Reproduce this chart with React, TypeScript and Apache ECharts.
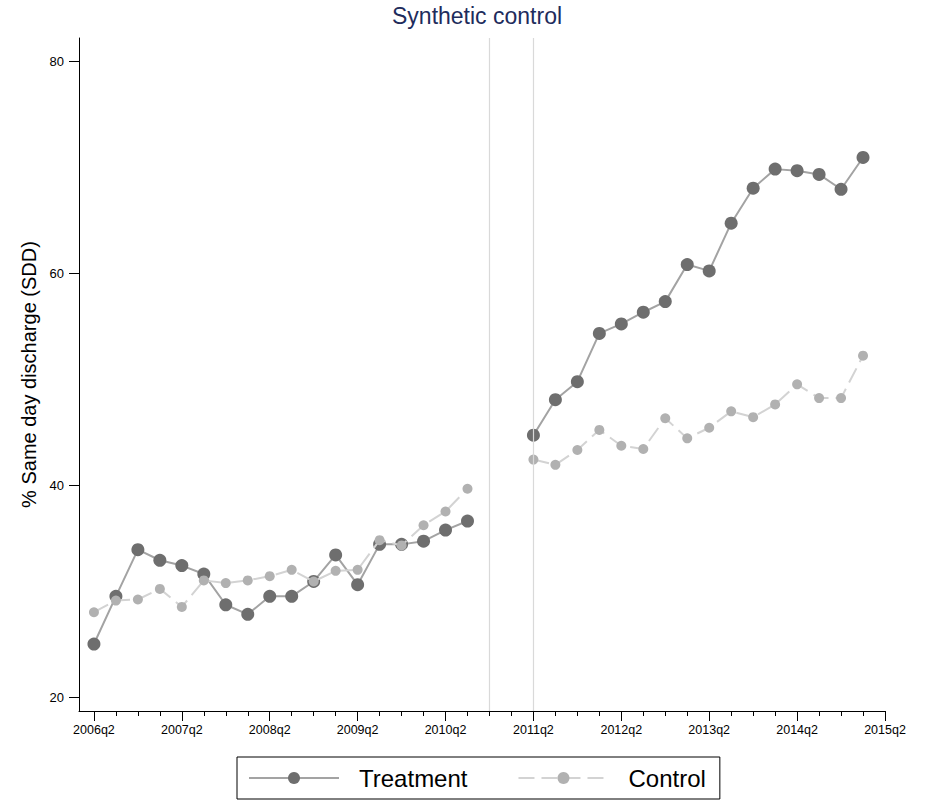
import React, { useEffect, useRef } from "react";
import * as echarts from "echarts";

// Quarter categories (index 0 = 2006q2)
const quarters = [
  "2006q2", "2006q3", "2006q4", "2007q1", "2007q2", "2007q3", "2007q4", "2008q1",
  "2008q2", "2008q3", "2008q4", "2009q1", "2009q2", "2009q3", "2009q4", "2010q1",
  "2010q2", "2010q3", "2010q4", "2011q1", "2011q2", "2011q3", "2011q4", "2012q1",
  "2012q2", "2012q3", "2012q4", "2013q1", "2013q2", "2013q3", "2013q4", "2014q1",
  "2014q2", "2014q3", "2014q4", "2015q1", "2015q2",
];

// % Same day discharge, 2006q2 .. 2015q1 (null = not observed)
const treatment = [
  25.0, 29.5, 33.9, 32.9, 32.4, 31.6, 28.7, 27.8, 29.5, 29.5, 30.9, 33.4, 30.6, 34.4,
  34.4, 34.7, 35.75, 36.6, null, null, 44.7, 48.05, 49.75, 54.3, 55.2, 56.3, 57.3,
  60.8, 60.2, 64.7, 68.0, 69.8, 69.65, 69.3, 67.9, 70.9,
];
const control = [
  28.0, 29.1, 29.2, 30.2, 28.5, 31.0, 30.75, 31.0, 31.4, 32.0, 30.9, 31.9, 32.0, 34.8,
  34.3, 36.2, 37.5, 39.65, null, null, 42.4, 41.9, 43.3, 45.2, 43.7, 43.4, 46.3, 44.4,
  45.4, 46.95, 46.4, 47.6, 49.5, 48.2, 48.2, 52.2,
];

const xTickLabels = [
  "2006q2", "2007q2", "2008q2", "2009q2", "2010q2", "2011q2", "2012q2", "2013q2",
  "2014q2", "2015q2",
];
const yTickValues = [20, 40, 60, 80];
const referenceQuarters = ["2010q4", "2011q2"];

const FONT = "Liberation Sans, Arial, Helvetica, sans-serif";

export default function App() {
  const ref = useRef<HTMLDivElement>(null);

  useEffect(() => {
    if (!ref.current) return;
    const chart = echarts.init(ref.current, undefined, { renderer: "svg" });

    const majorIdx = xTickLabels.map((l) => quarters.indexOf(l));
    const minorIdx = quarters.map((_, i) => i).filter((i) => majorIdx.indexOf(i) < 0);
    const toPairs = (arr: (number | null)[]) =>
      arr.map((v, i) => [i, v === null ? null : v]);

    const xMin = -0.68;
    const xMax = 36;

    const option: any = {
      animation: false,
      backgroundColor: "#ffffff",
      title: {
        text: "Synthetic control",
        left: 392,
        top: 4,
        padding: 0,
        textStyle: {
          fontFamily: FONT,
          fontSize: 23,
          fontWeight: "normal",
          color: "#1e2c5c",
        },
      },
      legend: {
        left: 237,
        top: 757,
        padding: [9, 14, 9, 11],
        borderColor: "#000",
        borderWidth: 1,
        itemGap: 50,
        itemWidth: 90,
        itemHeight: 15,
        textStyle: {
          fontFamily: FONT,
          fontSize: 24,
          color: "#000",
          padding: [0, 0, 0, 15],
        },
        data: ["Treatment", "Control"],
      },
      grid: { left: 79, right: 44, top: 38, bottom: 90 },
      xAxis: [
        {
          type: "value",
          min: xMin,
          max: xMax,
          position: "bottom",
          axisLine: { show: true, onZero: false, lineStyle: { color: "#000", width: 1 } },
          axisTick: {
            show: true,
            length: 10,
            customValues: majorIdx,
            lineStyle: { color: "#000", width: 1 },
          },
          axisLabel: {
            show: true,
            customValues: majorIdx,
            margin: 12,
            fontFamily: FONT,
            fontSize: 12.5,
            color: "#000",
            formatter: (v: number) => quarters[Math.round(v)] ?? "",
          },
          splitLine: { show: false },
        },
        {
          type: "value",
          min: xMin,
          max: xMax,
          position: "bottom",
          axisLine: { show: false, onZero: false },
          axisTick: {
            show: true,
            length: 5,
            customValues: minorIdx,
            lineStyle: { color: "#000", width: 1 },
          },
          axisLabel: { show: false },
          splitLine: { show: false },
        },
      ],
      yAxis: {
        type: "value",
        min: 18.68,
        max: 82.17,
        name: "% Same day discharge (SDD)",
        nameLocation: "middle",
        nameGap: 40,
        nameTextStyle: { fontFamily: FONT, fontSize: 20, color: "#000" },
        axisLine: { show: true, onZero: false, lineStyle: { color: "#000", width: 1 } },
        axisTick: {
          show: true,
          length: 10,
          customValues: yTickValues,
          lineStyle: { color: "#000", width: 1 },
        },
        axisLabel: {
          show: true,
          customValues: yTickValues,
          margin: 15,
          fontFamily: FONT,
          fontSize: 13,
          color: "#000",
        },
        splitLine: { show: false },
      },
      series: [
        {
          name: "Treatment",
          type: "line",
          xAxisIndex: 0,
          data: toPairs(treatment),
          connectNulls: false,
          symbol: "circle",
          symbolSize: 13,
          itemStyle: { color: "#6e6e6e" },
          lineStyle: { color: "#a3a3a3", width: 2 },
          markLine: {
            silent: true,
            symbol: ["none", "none"],
            label: { show: false },
            lineStyle: { color: "#d9d9d9", width: 1.2, type: "solid" },
            data: referenceQuarters.map((q) => ({ xAxis: quarters.indexOf(q) })),
          },
          z: 2,
        },
        {
          name: "Control",
          type: "line",
          xAxisIndex: 0,
          data: toPairs(control),
          connectNulls: false,
          symbol: "circle",
          symbolSize: 10,
          itemStyle: { color: "#b1b1b1" },
          lineStyle: { color: "#d3d3d3", width: 2, type: [16, 7] },
          z: 3,
        },
      ],
    };

    chart.setOption(option);
    return () => chart.dispose();
  }, []);

  return (
    <div
      ref={ref}
      style={{ position: "fixed", left: 0, top: 0, width: 929, height: 801 }}
    />
  );
}
